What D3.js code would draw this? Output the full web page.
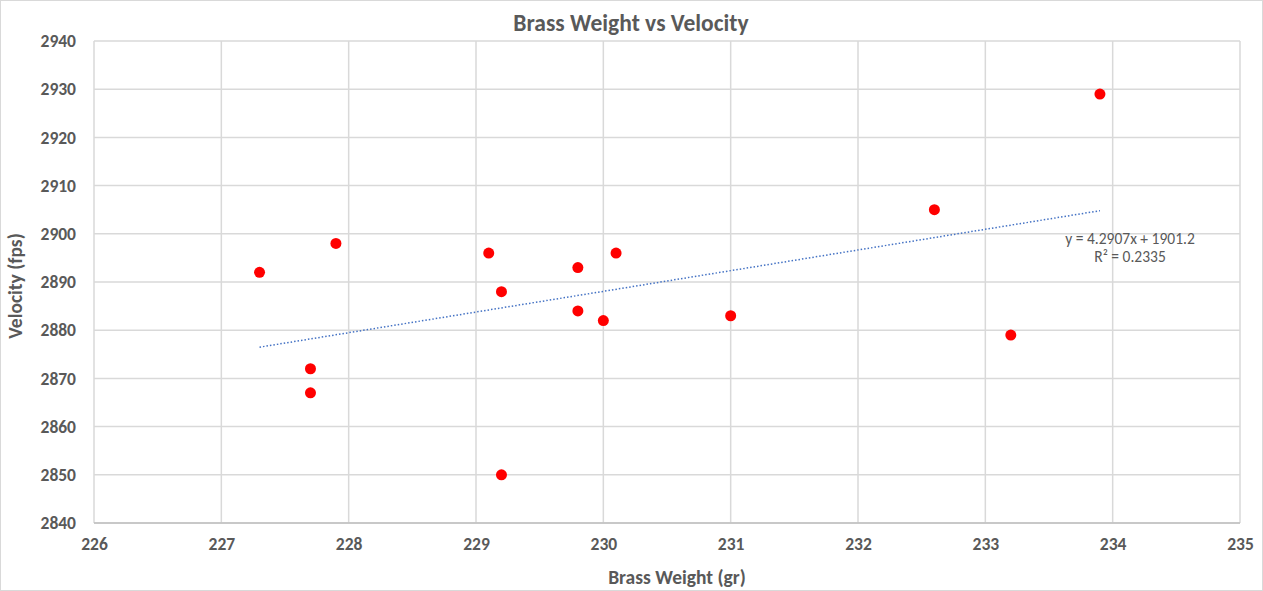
<!DOCTYPE html>
<html>
<head>
<meta charset="utf-8">
<script src="https://cdn.jsdelivr.net/npm/d3@7"></script>
<style>
  html, body { margin: 0; padding: 0; background: #fff; }
  svg { display: block; font-family: Carlito, Lato, "Open Sans", sans-serif; }
</style>
</head>
<body>
<svg id="chart" width="1263" height="591"></svg>
<script>
const weights = [227.3, 227.9, 227.7, 227.7, 229.1, 229.2, 229.2, 229.8, 229.8, 230.0, 230.1, 231.0, 232.6, 233.2, 233.9];
const velocities = [2892, 2898, 2872, 2867, 2896, 2888, 2850, 2893, 2884, 2882, 2896, 2883, 2905, 2879, 2929];
const xTicks = [226, 227, 228, 229, 230, 231, 232, 233, 234, 235];
const yTicks = [2840, 2850, 2860, 2870, 2880, 2890, 2900, 2910, 2920, 2930, 2940];
const trendSlope = 4.2907;
const trendIntercept = 1901.2;
const trendLabel = ["y = 4.2907x + 1901.2", "R² = 0.2335"];

const svg = d3.select("#chart");
const W = 1263, H = 591;
const m = { left: 94, right: 1240, top: 41, bottom: 523 };
const txtColor = "#595959";
const font = "Carlito, Lato, 'Open Sans', sans-serif";

svg.append("rect").attr("x", 0.5).attr("y", 0.5).attr("width", W - 1).attr("height", H - 1)
  .attr("fill", "#fff").attr("stroke", "#d9d9d9");

const x = d3.scaleLinear().domain([226, 235]).range([m.left, m.right]);
const y = d3.scaleLinear().domain([2840, 2940]).range([m.bottom, m.top]);

// gridlines
svg.append("g").selectAll("line").data(xTicks).join("line")
  .attr("x1", d => x(d)).attr("x2", d => x(d)).attr("y1", m.top).attr("y2", m.bottom)
  .attr("stroke", "#d9d9d9").attr("stroke-width", 1.5);
svg.append("g").selectAll("line").data(yTicks).join("line")
  .attr("x1", m.left).attr("x2", m.right).attr("y1", d => y(d)).attr("y2", d => y(d))
  .attr("stroke", "#d9d9d9").attr("stroke-width", 1.5);
svg.append("line").attr("x1", m.left).attr("x2", m.right).attr("y1", m.bottom).attr("y2", m.bottom)
  .attr("stroke", "#bfbfbf").attr("stroke-width", 1.5);

const xAxis = svg.append("g").attr("transform", `translate(0,${m.bottom})`)
  .call(d3.axisBottom(x).tickValues(xTicks).tickSize(0).tickPadding(15).tickFormat(d3.format("d")));
xAxis.select(".domain").remove();
xAxis.selectAll("text").attr("fill", txtColor).attr("font-size", 17.5).attr("font-weight", "bold")
  .attr("font-family", font);

const yAxis = svg.append("g").attr("transform", `translate(${m.left},0)`)
  .call(d3.axisLeft(y).tickValues(yTicks).tickSize(0).tickPadding(18).tickFormat(d3.format("d")));
yAxis.select(".domain").remove();
yAxis.selectAll("text").attr("fill", txtColor).attr("font-size", 17.5).attr("font-weight", "bold")
  .attr("font-family", font);

// trendline
const xmin = d3.min(weights), xmax = d3.max(weights);
const trend = [xmin, xmax].map(v => [v, trendSlope * v + trendIntercept]);
svg.append("path").datum(trend)
  .attr("d", d3.line().x(d => x(d[0])).y(d => y(d[1])))
  .attr("fill", "none").attr("stroke", "#4472c4").attr("stroke-width", 1.5)
  .attr("stroke-dasharray", "1.5,2");

// points
svg.append("g").selectAll("circle").data(weights.map((w, i) => [w, velocities[i]])).join("circle")
  .attr("cx", d => x(d[0])).attr("cy", d => y(d[1])).attr("r", 5.5)
  .attr("fill", "#ff0000");

// trend label
const lab = svg.append("text").attr("fill", txtColor).attr("font-size", 15.5).attr("text-anchor", "middle");
lab.append("tspan").attr("x", 1130).attr("y", 244).text(trendLabel[0]);
lab.append("tspan").attr("x", 1130).attr("y", 262).text(trendLabel[1]);

// title
svg.append("text").attr("x", 631).attr("y", 31).attr("text-anchor", "middle")
  .attr("fill", txtColor).attr("font-size", 23.5).attr("font-weight", "bold").text("Brass Weight vs Velocity");
// axis titles
svg.append("text").attr("x", 677).attr("y", 584).attr("text-anchor", "middle")
  .attr("fill", txtColor).attr("font-size", 19.5).attr("font-weight", "bold").text("Brass Weight (gr)");
svg.append("text").attr("transform", "translate(22,286) rotate(-90)").attr("text-anchor", "middle")
  .attr("fill", txtColor).attr("font-size", 19.5).attr("font-weight", "bold").text("Velocity (fps)");
</script>
</body>
</html>
